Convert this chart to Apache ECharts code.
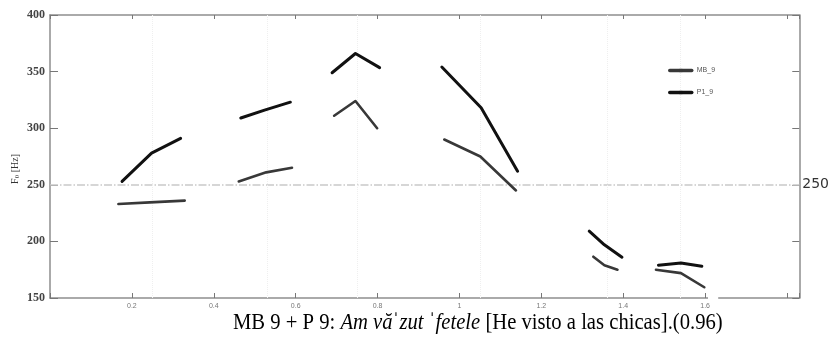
<!DOCTYPE html>
<html>
<head>
<meta charset="utf-8">
<script src="https://cdn.jsdelivr.net/npm/echarts@6/dist/echarts.min.js"></script>
<style>
html,body{margin:0;padding:0;background:#fff;}
#chart{width:832px;height:347px;}
</style>
</head>
<body>
<div id="chart"></div>
<script>
// Time (s) and F0 (Hz) values; null marks a gap between syllable segments
const mbTime = [0.167,0.244,0.329,null,0.461,0.528,0.591,null,0.694,0.746,0.799,null,0.963,1.051,1.138,null,1.327,1.354,1.386,null,1.480,1.541,1.598];
const mbF0   = [233,234.5,236,null,253,261,265,null,311,324,300,null,290,275,245,null,186.5,179,175,null,175,172,159.5];
const pTime  = [0.176,0.248,0.319,null,0.466,0.524,0.587,null,0.689,0.746,0.805,null,0.957,1.053,1.142,null,1.317,1.354,1.397,null,1.486,1.541,1.592];
const pF0    = [253,278,291,null,309,316,323,null,349,366,353.5,null,354,318,262,null,209,197,186,null,179,181,178];
const seriesNames = ['MB_9','P1_9'];
const xTickLabels = ['0.2','0.4','0.6','0.8','1','1.2','1.4','1.6'];
const yTickLabels = ['150','200','250','300','350','400'];
const yAxisTitle = {main:'F', sub:'0', rest:' [Hz]'};
const referenceF0 = 250;
const syllableMarks = [0.246,0.527,0.746,1.054,1.356,1.539];
const caption = {head:'MB 9 + P 9: ', italic:'Am văˈzut ˈfetele', tail:' [He visto a las chicas].(0.96)'};

function toData(xs, ys){
  return xs.map((x,i)=> x===null ? null : [x, ys[i]]);
}

const chart = echarts.init(document.getElementById('chart'), null, {renderer:'canvas'});
const axisGray = '#8e8e8e';
const serif = 'Liberation Serif, Times New Roman, serif';

const baseX = {
  type:'value', min:0, max:1.83, interval:0.2,
  axisLine:{show:true, onZero:false, lineStyle:{color:axisGray, width:1.5}},
  splitLine:{show:false}
};
const baseY = {
  type:'value', min:150, max:400, interval:50,
  axisLine:{show:true, onZero:false, lineStyle:{color:axisGray, width:1.5}},
  splitLine:{show:false}
};

chart.setOption({
  animation:false,
  backgroundColor:'#fff',
  grid:{left:50, right:32, top:15, bottom:49, containLabel:false},
  legend:{
    orient:'vertical', left:663, top:62, z:10,
    itemWidth:22, itemHeight:4, itemGap:15,
    itemStyle:{borderWidth:0},
    lineStyle:{width:3.5, cap:'round'},
    textStyle:{fontSize:7, color:'#555', fontFamily:'Liberation Sans, Arial, sans-serif'},
    data:seriesNames
  },
  xAxis:[
    Object.assign({}, baseX, {
      position:'bottom',
      axisTick:{show:true, inside:true, length:5, lineStyle:{color:'#777', width:1}},
      axisLabel:{
        show:true, fontSize:7, color:'#777', margin:5,
        fontFamily:'Liberation Sans, Arial, sans-serif',
        formatter:function(v){
          const i = Math.round(v/0.2) - 1;
          return (i>=0 && i<xTickLabels.length && Math.abs(v-(i+1)*0.2)<1e-6) ? xTickLabels[i] : '';
        }
      }
    }),
    Object.assign({}, baseX, {
      position:'top',
      axisTick:{show:true, inside:true, length:4, lineStyle:{color:'#777', width:1}},
      axisLabel:{show:false}
    })
  ],
  yAxis:[
    Object.assign({}, baseY, {
      position:'left',
      axisTick:{show:true, inside:true, length:8, lineStyle:{color:'#777', width:1}},
      axisLabel:{
        show:true, fontSize:12, fontWeight:'bold', color:'#444', margin:5,
        fontFamily:serif,
        formatter:function(v){ const i=Math.round((v-150)/50); return yTickLabels[i]||''; }
      }
    }),
    Object.assign({}, baseY, {
      position:'right',
      axisTick:{show:true, inside:true, length:7, lineStyle:{color:'#777', width:1}},
      axisLabel:{
        show:true, fontSize:14, color:'#333', margin:3,
        fontFamily:'DejaVu Sans, sans-serif',
        formatter:function(v){ return v===referenceF0 ? String(referenceF0) : ''; }
      }
    })
  ],
  series:[
    {
      name:'guides', type:'line', xAxisIndex:0, yAxisIndex:0,
      data:[], z:1, silent:true,
      markLine:{
        silent:true, symbol:'none', animation:false, z:1,
        label:{show:false},
        data:[
          {yAxis:referenceF0, lineStyle:{color:'#c9c9c9', width:1.5, type:[8,2,1.5,2]}}
        ].concat(syllableMarks.map(x=>({xAxis:x, lineStyle:{color:'#efefef', width:1, type:'dotted'}})))
      }
    },
    {
      name:seriesNames[0], type:'line', xAxisIndex:0, yAxisIndex:0,
      data:toData(mbTime, mbF0), connectNulls:false,
      showSymbol:false, symbol:'rect', symbolSize:2,
      lineStyle:{color:'#383838', width:2.6, cap:'round', join:'round'},
      itemStyle:{color:'#383838', borderWidth:0},
      emphasis:{disabled:true},
      z:3
    },
    {
      name:seriesNames[1], type:'line', xAxisIndex:0, yAxisIndex:0,
      data:toData(pTime, pF0), connectNulls:false,
      showSymbol:false, symbol:'rect', symbolSize:2,
      lineStyle:{color:'#111', width:3, cap:'round', join:'round'},
      itemStyle:{color:'#111', borderWidth:0},
      emphasis:{disabled:true},
      z:4
    }
  ]
});

// bottom-axis gap, y-axis title and caption placed from the axes' own scale
const gapA = chart.convertToPixel({xAxisIndex:0}, 1.607);
const gapB = chart.convertToPixel({xAxisIndex:0}, 1.632);
const yBottom = chart.convertToPixel({yAxisIndex:0}, 150);
const yTitleCenter = chart.convertToPixel({yAxisIndex:0}, 264);
chart.setOption({
  graphic:[
    {
      type:'rect', shape:{x:gapA, y:yBottom-2, width:gapB-gapA, height:4},
      style:{fill:'#fff'}, silent:true, z:100
    },
    {
      type:'text', x:15, y:yTitleCenter, rotation:Math.PI/2,
      style:{
        text:'{m|'+yAxisTitle.main+'}{s|'+yAxisTitle.sub+'}{m|'+yAxisTitle.rest+'}',
        align:'center', verticalAlign:'middle',
        rich:{
          m:{fontSize:10, fontFamily:serif, fill:'#333'},
          s:{fontSize:7, fontFamily:serif, fill:'#333', padding:[4,0,0,0]}
        }
      }
    },
    {
      type:'text', left:233, top:311, scaleX:0.86,
      style:{
        text:'{n|'+caption.head+'}{i|'+caption.italic+'}{n|'+caption.tail+'}',
        rich:{
          n:{fontSize:24, fontFamily:serif, fill:'#000'},
          i:{fontSize:24, fontStyle:'italic', fontFamily:serif, fill:'#000'}
        }
      }
    }
  ]
});
</script>
</body>
</html>
